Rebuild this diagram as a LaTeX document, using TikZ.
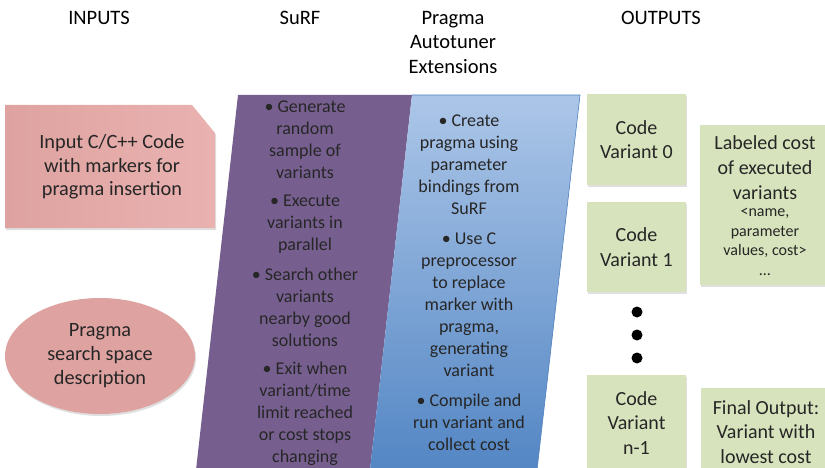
\documentclass[tikz,border=0pt]{standalone}
\usepackage{fontspec}
\setmainfont{Carlito}
\usetikzlibrary{shapes.geometric,shadows}
\definecolor{inpink}{RGB}{222,163,161}
\definecolor{inpinklt}{RGB}{233,178,176}
\definecolor{surfpurple}{RGB}{118,95,143}
\definecolor{extbluelt}{RGB}{172,198,232}
\definecolor{extbluedk}{RGB}{83,134,196}
\definecolor{extedge}{RGB}{79,129,189}
\definecolor{outgreen}{RGB}{215,227,188}

\begin{document}
\begin{tikzpicture}[x=1pt, y=-1pt,
	head/.style={font=\fontsize{20.5}{24.5}\selectfont, align=center, inner sep=0pt},
	bullets/.style={font=\fontsize{18}{22}\selectfont, align=center, inner sep=0pt, text=black!85},
	soft/.style={drop shadow={opacity=0.25, shadow xshift=1pt, shadow yshift=-2pt}},
	outbox/.style={soft, fill=outgreen, text=black!85,
		font=\fontsize{20}{24.5}\selectfont, align=center, inner sep=0pt}]
\useasboundingbox (0,0) rectangle (825,468);
\clip (0,0) rectangle (825,468);

% column heads
\node[head] (hin)  at (99,18)  {INPUTS};
\node[head] (hsurf) at (300,18) {SuRF};
\node[head] (hext) at (453,42) {Pragma\\Autotuner\\Extensions};
\node[head] (hout) at (661,18) {OUTPUTS};

% inputs
\shade[soft, left color=inpink, right color=inpinklt]
	(5,105) -- (192,105) -- (215,133) -- (215,228) -- (5,228) -- cycle;
\node[bullets, font=\fontsize{20.3}{23.5}\selectfont] (incode) at (112,167)
	{Input C/C++ Code\\with markers for\\pragma insertion};
\node[soft, ellipse, fill=inpink, minimum width=190pt, minimum height=116pt,
	inner sep=0pt, text=black!85, align=center, font=\fontsize{20.3}{24}\selectfont]
	(space) at (100,356) {Pragma\\search space\\description};

% SuRF and the extensions
\fill[surfpurple] (238,95) -- (412,95) -- (370,470) -- (196,470) -- cycle;
\shade[top color=extbluelt, bottom color=extbluedk]
	(412,95) -- (580,95) -- (537,470) -- (370,470) -- cycle;
\draw[extedge, line width=0.6pt] (412,95) -- (580,95) -- (537,470);

\node[bullets] (s1) at (305,140) {• Generate\\random\\sample of\\variants};
\node[bullets] (s2) at (305,224) {• Execute\\variants in\\parallel};
\node[bullets] (s3) at (305,307) {• Search other\\variants\\nearby good\\solutions};
\node[bullets] (s4) at (305,414) {• Exit when\\variant/time\\limit reached\\or cost stops\\changing};

\node[bullets] (e1) at (469,165) {• Create\\pragma using\\parameter\\bindings from\\SuRF};
\node[bullets] (e2) at (469,305) {• Use C\\preprocessor\\to replace\\marker with\\pragma,\\generating\\variant};
\node[bullets] (e3) at (469,422) {• Compile and\\run variant and\\collect cost};

% outputs
\node[outbox, minimum width=99pt, minimum height=91pt] (v0) at (636.5,139.5) {Code\\Variant 0};
\node[outbox, minimum width=99pt, minimum height=90pt] (v1) at (636.5,247) {Code\\Variant 1};
\node[outbox, minimum width=99pt, minimum height=96pt] (vn) at (636.5,423) {Code\\Variant\\n-1};
\foreach \y in {312, 335, 358}
	\fill (637,\y) circle (5.5pt);

\node[outbox, minimum width=130pt, minimum height=160pt] (cost) at (765,205) {};
\node[bullets, font=\fontsize{20}{25}\selectfont] (costtxt) at (765,168)
	{Labeled cost\\of executed\\variants};
\node[bullets, font=\fontsize{16}{19.5}\selectfont] (costlist) at (765,242)
	{<name,\\parameter\\values, cost>\\…};
\node[outbox, minimum width=130pt, minimum height=88pt] (final) at (766,432)
	{Final Output:\\Variant with\\lowest cost};
\end{tikzpicture}
\end{document}
